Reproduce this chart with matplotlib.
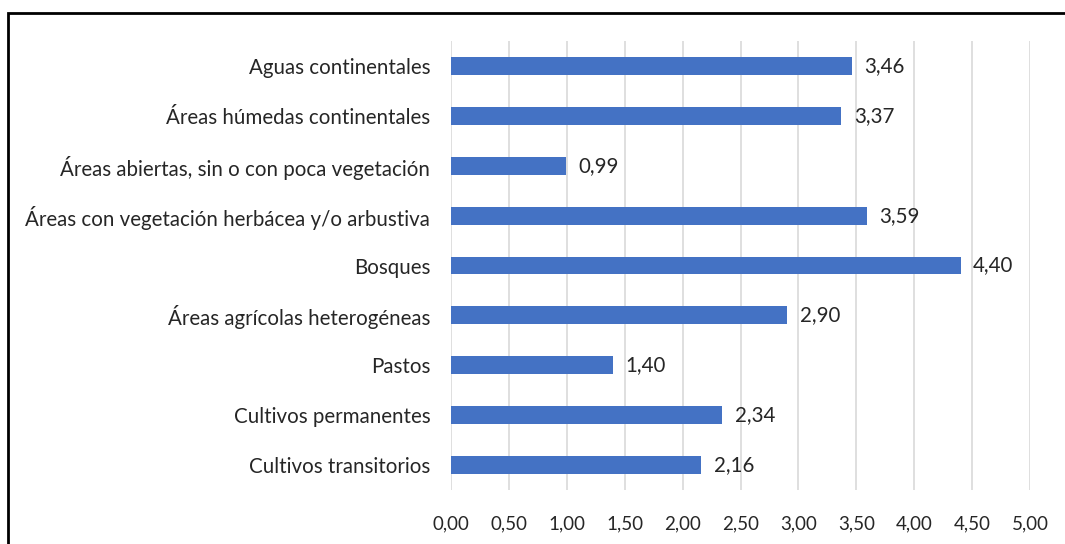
import matplotlib
matplotlib.use("Agg")
import matplotlib.pyplot as plt
from matplotlib.patches import Rectangle

categories = [
    "Aguas continentales",
    "Áreas húmedas continentales",
    "Áreas abiertas, sin o con poca vegetación",
    "Áreas con vegetación herbácea y/o arbustiva",
    "Bosques",
    "Áreas agrícolas heterogéneas",
    "Pastos",
    "Cultivos permanentes",
    "Cultivos transitorios",
]
values = [3.46, 3.37, 0.99, 3.59, 4.40, 2.90, 1.40, 2.34, 2.16]
x_ticks = [0, 0.5, 1, 1.5, 2, 2.5, 3, 3.5, 4, 4.5, 5]

plt.rcParams["font.family"] = ["Lato", "DejaVu Sans"]

fig = plt.figure(figsize=(10.65, 5.44), dpi=100)
ax = fig.add_axes([451 / 1065, 1 - 490 / 544, 579 / 1065, 449 / 544])

ypos = list(range(len(categories)))
ax.barh(ypos, values, height=0.36, color="#4472C4", zorder=3)
ax.set_ylim(len(categories) - 0.5, -0.5)
ax.set_yticks(ypos)
ax.set_yticklabels(categories, fontsize=14.8, color="#262626")
ax.set_xlim(0, 5)
ax.set_xticks(x_ticks)
ax.set_xticklabels([f"{t:.2f}".replace(".", ",") for t in x_ticks],
                   fontsize=13.5, color="#262626")
ax.tick_params(axis="both", length=0)
ax.tick_params(axis="x", pad=18)
ax.tick_params(axis="y", pad=15)
for s in ax.spines.values():
    s.set_visible(False)
ax.grid(axis="x", color="#d9d9d9", linewidth=1.2, zorder=0)

for i, v in enumerate(values):
    ax.text(v + 0.11, i, f"{v:.2f}".replace(".", ","), va="center", ha="left",
            fontsize=14.8, color="#262626")

fig.patches.append(Rectangle((8 / 1065, -0.1), 1.2, 1 - 13 / 544 + 0.1,
                             transform=fig.transFigure, fill=False,
                             edgecolor="black", linewidth=2))

fig.savefig("out.png", dpi=100)
